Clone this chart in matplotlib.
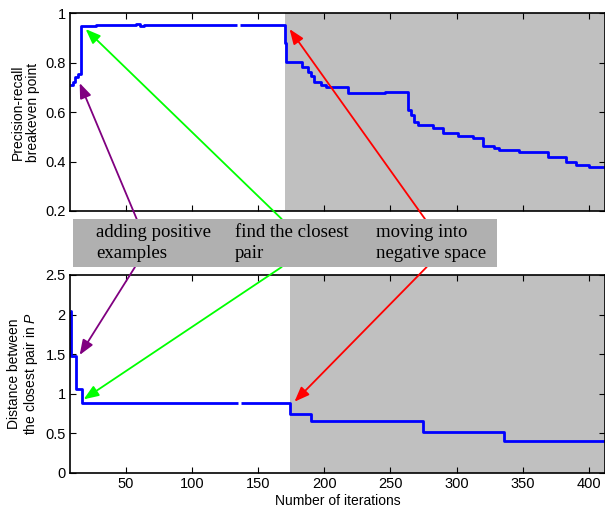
import numpy as np
import matplotlib
matplotlib.use('Agg')
import matplotlib.pyplot as plt
from matplotlib.patches import Rectangle

plt.rcParams['font.family'] = ['Liberation Sans', 'DejaVu Sans']
plt.rcParams['mathtext.fontset'] = 'custom'
plt.rcParams['mathtext.it'] = 'Liberation Sans:italic'
plt.rcParams['mathtext.rm'] = 'Liberation Sans'

nan = np.nan

# precision-recall breakeven point (step curve, NaN = gap)
pr_x = [8, 10, 11.5, 14, 16.5, 28, 58, 61, 64, 134, 136.5, 170, 171, 183, 187.5,
        190, 192.5, 197.5, 201.5, 218, 245.5, 263, 265.5, 268, 270.5, 282,
        289.5, 301, 312, 320, 328.5, 332, 347, 369, 382.5, 390, 400, 412]
pr_y = [0.709, 0.722, 0.743, 0.752, 0.949, 0.952, 0.957, 0.946, 0.951, nan, 0.951,
        0.88, 0.803, 0.783, 0.763, 0.745, 0.722, 0.709, 0.700, 0.675, 0.682,
        0.608, 0.588, 0.561, 0.547, 0.534, 0.514, 0.503, 0.494, 0.464, 0.453,
        0.446, 0.440, 0.420, 0.400, 0.386, 0.377, 0.377]

# distance between the closest pair
d_x = [8, 9, 12.3, 17.3, 134.5, 137, 174.5, 190, 274.5, 335.5, 412]
d_y = [2.045, 1.477, 1.065, 0.888, nan, 0.888, 0.745, 0.657, 0.518, 0.404, 0.404]

neg_start_top = 170
neg_start_bot = 174.5
x_min, x_max = 8, 412

labels = ['adding positive\nexamples', 'find the closest\npair', 'moving into\nnegative space']
arrow_colors = ['#800080', '#00ff00', '#ff0000']
# arrow heads (data coords) for top and bottom plots
top_heads = [(15.3, 0.717), (19.8, 0.935), (173.8, 0.935)]
bot_heads = [(15.3, 1.49), (18.3, 0.93), (177.5, 0.90)]

fig = plt.figure(figsize=(6.05, 5.08), dpi=100)
ax1 = fig.add_axes([70/605, (508-211)/508, 535/605, 198/508])
ax2 = fig.add_axes([70/605, (508-473)/508, 535/605, 198/508])

shade = '#c0c0c0'
ax1.axvspan(neg_start_top, x_max, color=shade, lw=0)
ax1.plot(pr_x, pr_y, color='#0000ff', lw=2, drawstyle='steps-post', solid_capstyle='butt')
ax1.set_xlim(x_min, x_max)
ax1.set_ylim(0.2, 1)
ax1.set_yticks([0.2, 0.4, 0.6, 0.8, 1])
ax1.set_yticklabels(['0.2', '0.4', '0.6', '0.8', '1'])
ax1.set_xticks(range(50, 401, 50))
ax1.set_xticklabels([])
ax1.set_ylabel('Precision-recall\nbreakeven point', fontsize=10, linespacing=1.1)

ax2.axvspan(neg_start_bot, x_max, color=shade, lw=0)
ax2.plot(d_x, d_y, color='#0000ff', lw=2, drawstyle='steps-post', solid_capstyle='butt')
ax2.set_xlim(x_min, x_max)
ax2.set_ylim(0, 2.5)
ax2.set_yticks([0, 0.5, 1, 1.5, 2, 2.5])
ax2.set_yticklabels(['0', '0.5', '1', '1.5', '2', '2.5'])
ax2.set_xticks(range(50, 401, 50))
ax2.set_xlabel('Number of iterations', fontsize=10, labelpad=2)
ax2.set_ylabel('Distance between\nthe closest pair in $P$', fontsize=10, linespacing=1.1)

for ax in (ax1, ax2):
    ax.tick_params(direction='in', top=True, right=True, labelsize=10.5, length=4, pad=3)
    for s in ax.spines.values():
        s.set_linewidth(1.2)

# label box between the plots
box_l, box_r = 73/605, 497/605
box_t, box_b = (508-219)/508, (508-267)/508
fig.add_artist(Rectangle((box_l, box_b), box_r - box_l, box_t - box_b,
                         transform=fig.transFigure, facecolor='#b0b0b0',
                         edgecolor='none', zorder=5))
text_x = [96/605, 235/605, 376/605]
for tx, lab in zip(text_x, labels):
    fig.text(tx, (box_t + box_b) / 2, lab, family=['Liberation Serif'], fontsize=13.5,
             va='center', ha='left', linespacing=1.35, zorder=6)

start_x_top = [136.7/605, 281.7/605, 425/605]
start_x_bot = [135/605, 281.7/605, 426.7/605]
for c, h, sx in zip(arrow_colors, top_heads, start_x_top):
    ax1.annotate('', xy=h, xycoords='data', xytext=(sx, box_t), textcoords='figure fraction',
                 arrowprops=dict(arrowstyle='-|>,head_length=0.9,head_width=0.35',
                                 color=c, lw=1.3, shrinkA=0, shrinkB=0),
                 annotation_clip=False)
for c, h, sx in zip(arrow_colors, bot_heads, start_x_bot):
    ax2.annotate('', xy=h, xycoords='data', xytext=(sx, box_b), textcoords='figure fraction',
                 arrowprops=dict(arrowstyle='-|>,head_length=0.9,head_width=0.35',
                                 color=c, lw=1.3, shrinkA=0, shrinkB=0),
                 annotation_clip=False)

fig.savefig('out.png', dpi=100)
